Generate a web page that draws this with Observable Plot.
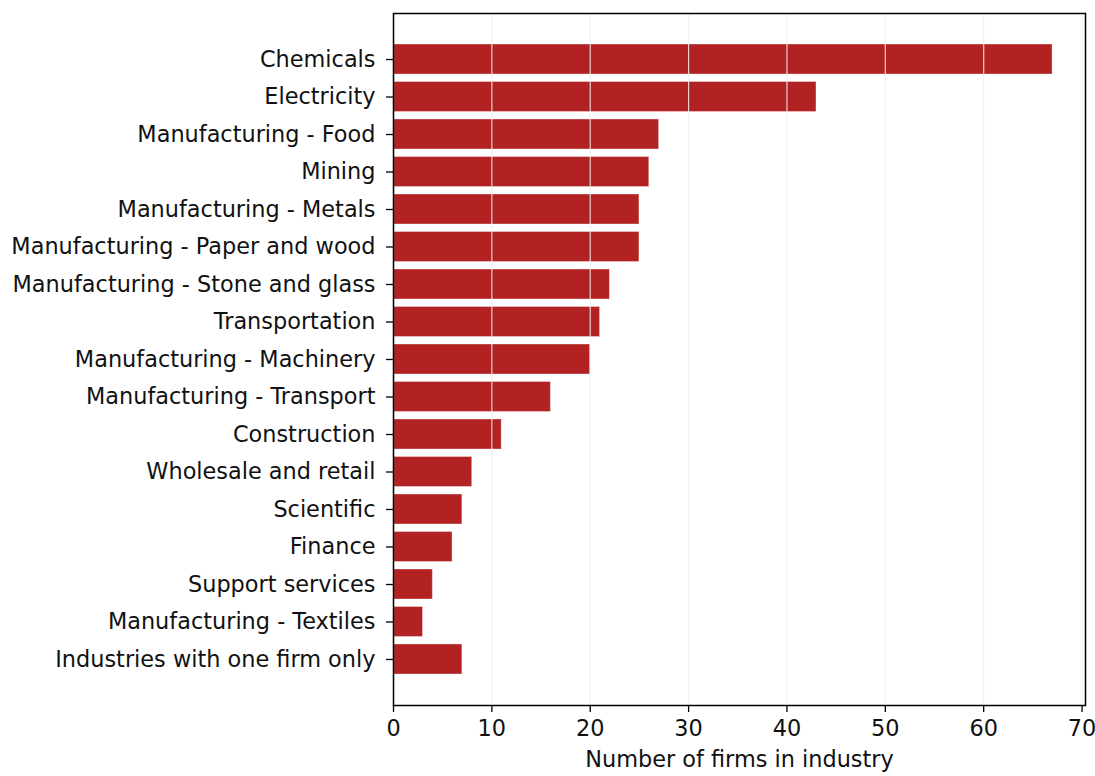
<!DOCTYPE html>
<html>
<head>
<meta charset="utf-8">
<script src="https://cdn.jsdelivr.net/npm/d3@7"></script>
<script src="https://cdn.jsdelivr.net/npm/@observablehq/plot@0.6"></script>
<style>
  html, body { margin: 0; padding: 0; background: white; }
</style>
</head>
<body>
<div id="chart"></div>
<script>
const industries = [
  "Chemicals",
  "Electricity",
  "Manufacturing - Food",
  "Mining",
  "Manufacturing - Metals",
  "Manufacturing - Paper and wood",
  "Manufacturing - Stone and glass",
  "Transportation",
  "Manufacturing - Machinery",
  "Manufacturing - Transport",
  "Construction",
  "Wholesale and retail",
  "Scientific",
  "Finance",
  "Support services",
  "Manufacturing - Textiles",
  "Industries with one firm only"
];
const firmCounts = [67, 43, 27, 26, 25, 25, 22, 21, 20, 16, 11, 8, 7, 6, 4, 3, 7];
const xTicks = [0, 10, 20, 30, 40, 50, 60, 70];
const xTitle = "Number of firms in industry";

const data = industries.map((d, i) => ({industry: d, firms: firmCounts[i]}));

const chart = Plot.plot({
  width: 1095,
  height: 776,
  marginTop: 13,
  marginBottom: 71,
  marginLeft: 393,
  marginRight: 10,
  style: {fontFamily: "DejaVu Sans", fontSize: "22.4px", color: "#111", background: "white"},
  x: {domain: [0, 70.35]},
  y: {domain: industries, paddingInner: 0.2, paddingOuter: 0.827, round: false, label: null},
  marks: [
    Plot.barX(data, {x: "firms", y: "industry", fill: "#b22222", stroke: "white", strokeOpacity: 0.35, strokeWidth: 1}),
    Plot.gridX(xTicks, {stroke: "#eeeeee", strokeOpacity: 0.85, strokeWidth: 1.2}),
    Plot.frame({stroke: "black", strokeWidth: 1.5}),
    Plot.axisX(xTicks, {tickSize: 7, tickPadding: 8, tickFormat: d => String(d), label: null, stroke: "black", strokeWidth: 1.3}),
    Plot.axisY({tickSize: 7, tickPadding: 11, label: null, stroke: "black", strokeWidth: 1.3}),
    Plot.text([xTitle], {text: d => d, frameAnchor: "bottom", dy: 61, fontSize: 22.4, fill: "#111"})
  ]
});
document.getElementById("chart").appendChild(chart);
</script>
</body>
</html>
